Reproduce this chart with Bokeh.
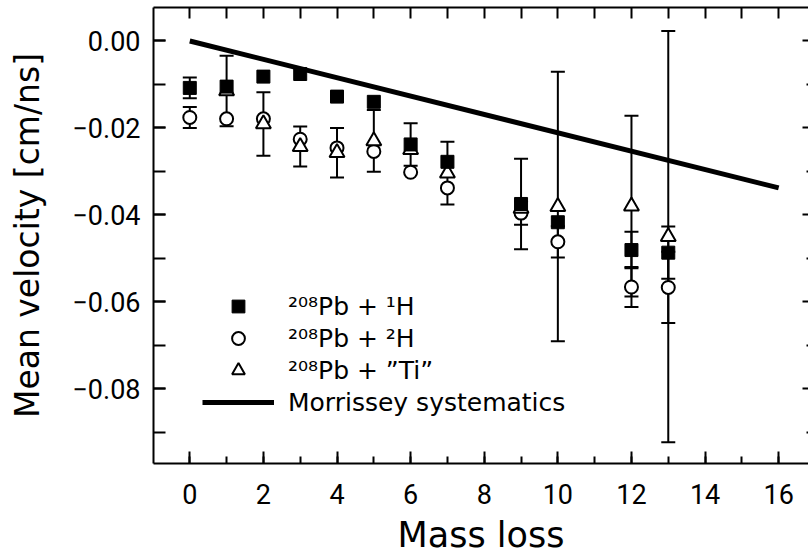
from bokeh.plotting import figure
from bokeh.models import (Range1d, LinearAxis, SingleIntervalTicker, FixedTicker, Whisker, TeeHead,
                          ColumnDataSource, Legend, LegendItem, CustomJSTickFormatter)
from bokeh.embed import file_html
from bokeh.resources import INLINE

# ---- data ----
sq_x = [0, 1, 2, 3, 4, 5, 6, 7, 9, 10, 12, 13]
sq_y = [-0.0108, -0.0105, -0.0082, -0.0076, -0.0128, -0.0140, -0.0238, -0.0278,
        -0.0375, -0.0417, -0.0481, -0.0487]
sq_err = [0.0024, None, None, None, None, None, 0.0049, None, 0.0104, None, 0.0042, 0.0060]

ci_x = [0, 1, 2, 3, 4, 5, 6, 7, 9, 10, 12, 13]
ci_y = [-0.0176, -0.0179, -0.0179, -0.0226, -0.0246, -0.0254, -0.0302, -0.0338,
        -0.0396, -0.0462, -0.0566, -0.0567]
ci_err = [0.0024, None, None, None, None, None, None, None, 0.0027, 0.0036, 0.0046, 0.0082]

tr_x = [1, 2, 3, 4, 5, 6, 7, 9, 10, 12, 13]
tr_y = [-0.0115, -0.0191, -0.0243, -0.0257, -0.0230, -0.0250, -0.0304, -0.0385,
        -0.0381, -0.0380, -0.0450]
tr_err = [0.0081, 0.0073, 0.0046, 0.0057, 0.0071, None, 0.0072, None, 0.0310, 0.0208, 0.0473]

mor_x = [0, 16]
mor_y = [0.0, -0.0338]

labels = ["\u00b2\u2070\u2078Pb + \u00b9H", "\u00b2\u2070\u2078Pb + \u00b2H",
          "\u00b2\u2070\u2078Pb + \u201dTi\u201d", "Morrissey systematics"]

x_title = "Mass loss"
y_title = "Mean velocity [cm/ns]"

# tick positions for the unlabeled frame sides
top_ticks = list(range(0, 17))
right_long_ticks = [k / 100 for k in range(-8, 1, 2)]
right_short_ticks = [k / 100 for k in range(-9, 0, 2)]

TITLE_FONT = "DejaVu Sans"
TICK_FONT = "Roboto"

p = figure(width=808, height=557, output_backend="svg", toolbar_location=None,
           x_range=Range1d(-0.986, 16.81), y_range=Range1d(-0.0972, 0.0077),
           min_border_left=153, min_border_right=0, min_border_top=7, min_border_bottom=90)
p.grid.visible = False
p.outline_line_color = None
p.background_fill_color = "white"


def err_source(xs, ys, es):
    xx, lo, hi = [], [], []
    for x, y, e in zip(xs, ys, es):
        if e is not None:
            xx.append(x)
            lo.append(y - e)
            hi.append(y + e)
    return ColumnDataSource(dict(x=xx, lower=lo, upper=hi))


# markers
r_ci = p.scatter(ci_x, ci_y, marker="circle", size=13, fill_color="white",
                 line_color="black", line_width=2)
r_tr = p.scatter(tr_x, tr_y, marker="triangle", size=15, fill_color="white",
                 line_color="black", line_width=2)
r_sq = p.scatter(sq_x, sq_y, marker="square", size=13, fill_color="black",
                 line_color="black", line_width=1)

# error bars
for xs, ys, es in [(sq_x, sq_y, sq_err), (ci_x, ci_y, ci_err), (tr_x, tr_y, tr_err)]:
    w = Whisker(base="x", lower="lower", upper="upper", source=err_source(xs, ys, es),
                line_color="black", line_width=2,
                upper_head=TeeHead(size=14, line_width=2, line_color="black"),
                lower_head=TeeHead(size=14, line_width=2, line_color="black"))
    p.add_layout(w)

r_line = p.line(mor_x, mor_y, line_color="black", line_width=5)

# bottom axis
xa = p.xaxis[0]
xa.ticker = SingleIntervalTicker(interval=2, num_minor_ticks=2)
xa.major_tick_in = 12
xa.major_tick_out = 0
xa.minor_tick_in = 7
xa.minor_tick_out = 0
xa.axis_line_width = 2
xa.major_tick_line_width = 2
xa.minor_tick_line_width = 2
xa.major_label_text_font = TICK_FONT
xa.major_label_text_font_size = "27px"
xa.major_label_text_color = "black"
xa.major_label_standoff = 20
xa.axis_label = x_title
xa.axis_label_text_font = TITLE_FONT
xa.axis_label_text_font_size = "35px"
xa.axis_label_text_font_style = "normal"
xa.axis_label_text_color = "black"
xa.axis_label_standoff = 8

# left axis
ya = p.yaxis[0]
ya.ticker = SingleIntervalTicker(interval=0.02, num_minor_ticks=2)
ya.formatter = CustomJSTickFormatter(
    code="return (tick < -1e-9 ? '\u2212' : '') + Math.abs(tick).toFixed(2);")
ya.major_tick_in = 12
ya.major_tick_out = 0
ya.minor_tick_in = 12
ya.minor_tick_out = 0
ya.axis_line_width = 2
ya.major_tick_line_width = 2
ya.minor_tick_line_width = 2
ya.major_label_text_font = TICK_FONT
ya.major_label_text_font_size = "27px"
ya.major_label_text_color = "black"
ya.major_label_standoff = 13
ya.axis_label = y_title
ya.axis_label_text_font = TITLE_FONT
ya.axis_label_text_font_size = "33px"
ya.axis_label_text_font_style = "normal"
ya.axis_label_text_color = "black"
ya.axis_label_standoff = 22

# top axis: ticks only
ta = LinearAxis(ticker=FixedTicker(ticks=[], minor_ticks=top_ticks),
                major_tick_in=0, major_tick_out=0, minor_tick_in=11, minor_tick_out=0,
                axis_line_width=2, minor_tick_line_width=2)
p.add_layout(ta, "above")

# right side: ticks only (frame edge lies at the window edge)
ra1 = LinearAxis(ticker=FixedTicker(ticks=[], minor_ticks=right_long_ticks),
                 major_tick_in=0, major_tick_out=0, minor_tick_in=6, minor_tick_out=0,
                 axis_line_color=None, minor_tick_line_width=2)
ra2 = LinearAxis(ticker=FixedTicker(ticks=[], minor_ticks=right_short_ticks),
                 major_tick_in=0, major_tick_out=0, minor_tick_in=2, minor_tick_out=0,
                 axis_line_color=None, minor_tick_line_width=2)
p.add_layout(ra1, "right")
p.add_layout(ra2, "right")

legend = Legend(items=[LegendItem(label=labels[0], renderers=[r_sq]),
                       LegendItem(label=labels[1], renderers=[r_ci]),
                       LegendItem(label=labels[2], renderers=[r_tr]),
                       LegendItem(label=labels[3], renderers=[r_line])],
                location=(49, 45), label_text_font=TITLE_FONT, label_text_font_size="25px",
                label_text_color="black",
                glyph_width=72, glyph_height=32, label_height=32, spacing=0,
                padding=0, margin=0, border_line_color=None, background_fill_alpha=0,
                label_standoff=14)
p.add_layout(legend)

open("out.html", "w").write(file_html(p, INLINE))
